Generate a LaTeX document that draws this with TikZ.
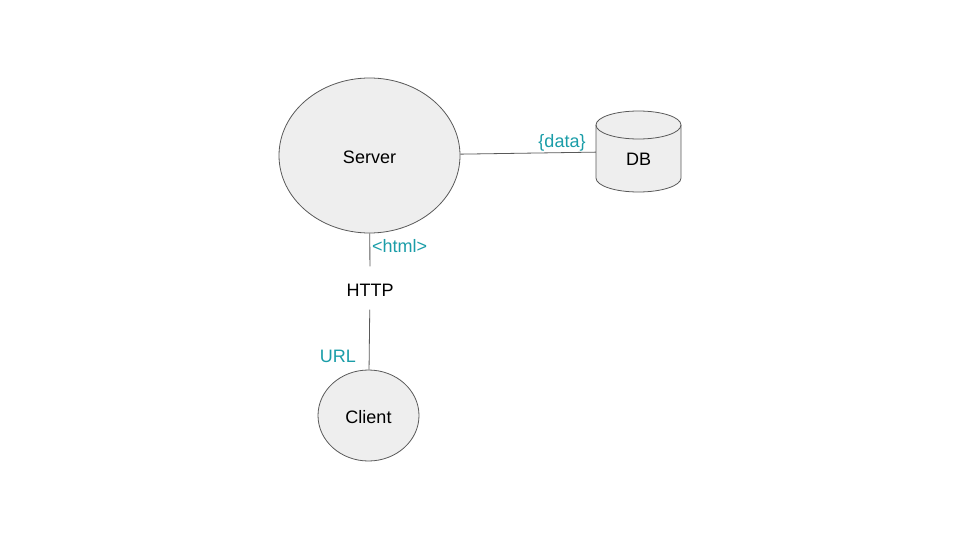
\documentclass[tikz,border=0pt]{standalone}
\usepackage{fontspec}
\setmainfont{Liberation Sans}
\usepackage{tikz}
\usetikzlibrary{shapes.geometric}
\definecolor{boxfill}{HTML}{EEEEEE}
\definecolor{boxline}{HTML}{595959}
\definecolor{labteal}{HTML}{1A9DA8}

\begin{document}
\begin{tikzpicture}[x=1pt,y=-1pt]
        \tikzstyle{every node} = [font=\fontsize{18}{20}\selectfont, inner sep=0pt, text height=16pt, text depth=0pt]
        \tikzstyle{blob} = [ellipse, draw=boxline, fill=boxfill, line width=0.8pt]
        \tikzstyle{store} = [rectangle, minimum width=85pt, minimum height=81pt]
        \tikzstyle{lab} = [text=labteal]
        \useasboundingbox (0,0) rectangle (960,540);
        % the DB cylinder
        \filldraw[boxline, fill=boxfill, line width=0.8pt] (596,125) -- (596,178)
            arc[start angle=180, end angle=0, x radius=42.5, y radius=14] -- (681,125)
            arc[start angle=0, end angle=-180, x radius=42.5, y radius=14] -- cycle;
        \draw[boxline, line width=0.8pt] (596,125)
            arc[start angle=180, end angle=0, x radius=42.5, y radius=14];
        \node[blob, minimum width=181pt, minimum height=155pt] (server) at (369.5,155.5) {Server};
        \node[blob, minimum width=101pt, minimum height=91pt] (client) at (368.5,415.5) {Client};
        \node[store] (db) at (638.5,151.5) {};
        \node (dbtext) at (638.5,158) {DB};
        \node[minimum height=43pt] (http) at (370,288) {HTTP};
        \node[lab] (data) at (562,140) {\{data\}};
        \node[lab, anchor=west] (html) at (372,244) {<html>};
        \node[lab, anchor=east] (url) at (356,354) {URL};
        \foreach \from/\to in {server/db, server/http, http/client}
            \draw[boxline, line width=0.8pt] (\from) -- (\to);
    \end{tikzpicture}
\end{document}
